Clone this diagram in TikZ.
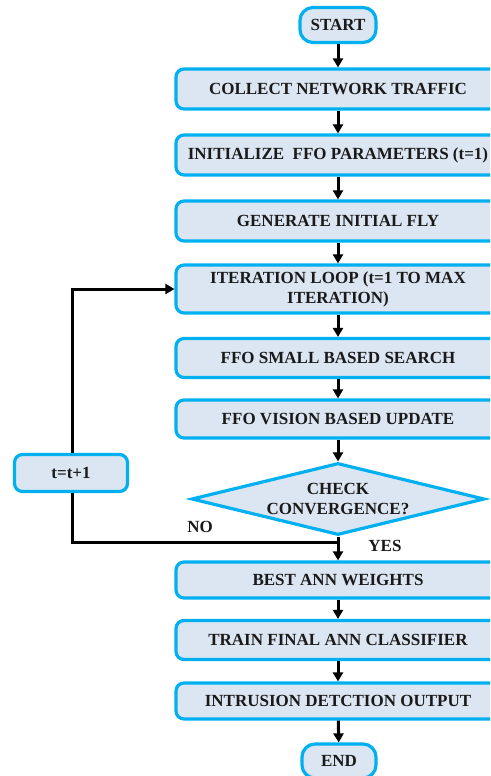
\documentclass[tikz,border=0pt]{standalone}
\usepackage{fontspec}
\setmainfont{Liberation Serif}
\usetikzlibrary{shapes.geometric,arrows.meta}
\definecolor{boxfill}{HTML}{DCE6F2}
\definecolor{boxline}{HTML}{00B0F0}
\definecolor{txt}{HTML}{1A1A1A}
\tikzset{
  flowbox/.style={draw=boxline, line width=3.2pt, fill=boxfill, rounded corners=8pt,
    minimum width=324pt, inner sep=0pt, align=center, text=txt,
    font=\fontsize{17}{20}\selectfont\bfseries},
  termbox/.style={flowbox, rounded corners=13pt, minimum width=76pt, minimum height=35pt},
  decbox/.style={diamond, aspect=4.07, draw=boxline, line width=3.2pt, fill=boxfill, inner sep=0pt,
    minimum width=293pt, minimum height=72pt, align=center, text=txt,
    font=\fontsize{17}{20}\selectfont\bfseries},
  flowarrow/.style={line width=3pt, -{Triangle[length=9pt,width=10pt]}},
  flowline/.style={line width=3pt},
  lbl/.style={text=txt, font=\fontsize{17}{20}\selectfont\bfseries, inner sep=0pt}
}
\begin{document}
\begin{tikzpicture}[x=1pt,y=-1pt]
\useasboundingbox (0,0) rectangle (490,776);
\clip (0,0) rectangle (490,776);
\node[termbox] (start) at (338,25) {START};
\node[flowbox, minimum height=40pt] (collect) at (338,89) {COLLECT NETWORK TRAFFIC};
\node[flowbox, minimum height=40pt] (init) at (338,155) {INITIALIZE\ \ FFO PARAMETERS (t=1)};
\node[flowbox, minimum height=40pt] (gen) at (338,221) {GENERATE INITIAL FLY};
\node[flowbox, minimum height=48pt] (iter) at (338,289) {ITERATION LOOP (t=1 TO MAX\\ITERATION)};
\node[flowbox, minimum height=39pt] (small) at (338,358) {FFO SMALL BASED SEARCH};
\node[flowbox, minimum height=38pt] (vision) at (338,419) {FFO VISION BASED UPDATE};
\node[decbox] (check) at (338,499) {CHECK\\CONVERGENCE?};
\node[flowbox, minimum height=36pt] (best) at (338,580) {BEST ANN WEIGHTS};
\node[flowbox, minimum height=39pt] (train) at (338,640) {TRAIN FINAL ANN CLASSIFIER};
\node[flowbox, minimum height=36pt] (intr) at (338,701) {INTRUSION DETCTION OUTPUT};
\node[termbox, minimum width=74pt, minimum height=34pt] (end) at (339,761) {END};
\coordinate (j) at (338,542);
\draw[flowline] (j) -| (72,473) coordinate (tmid);
\draw[flowarrow] (tmid) |- (iter.west);
\node[flowbox, minimum width=113pt, minimum height=37pt] (tbox) at (71,473) {t=t+1};
\draw[flowarrow] (start) -- (collect);
\draw[flowarrow] (collect) -- (init);
\draw[flowarrow] (init) -- (gen);
\draw[flowarrow] (gen) -- (iter);
\draw[flowarrow] (iter) -- (small);
\draw[flowarrow] (small) -- (vision);
\draw[flowarrow] (vision) -- (check);
\draw[flowarrow] (check) -- (best);
\draw[flowarrow] (best) -- (train);
\draw[flowarrow] (train) -- (intr);
\draw[flowarrow] (intr) -- (end);
\node[lbl] (no) at (200,527) {NO};
\node[lbl] (yes) at (385,546) {YES};
\end{tikzpicture}
\end{document}
